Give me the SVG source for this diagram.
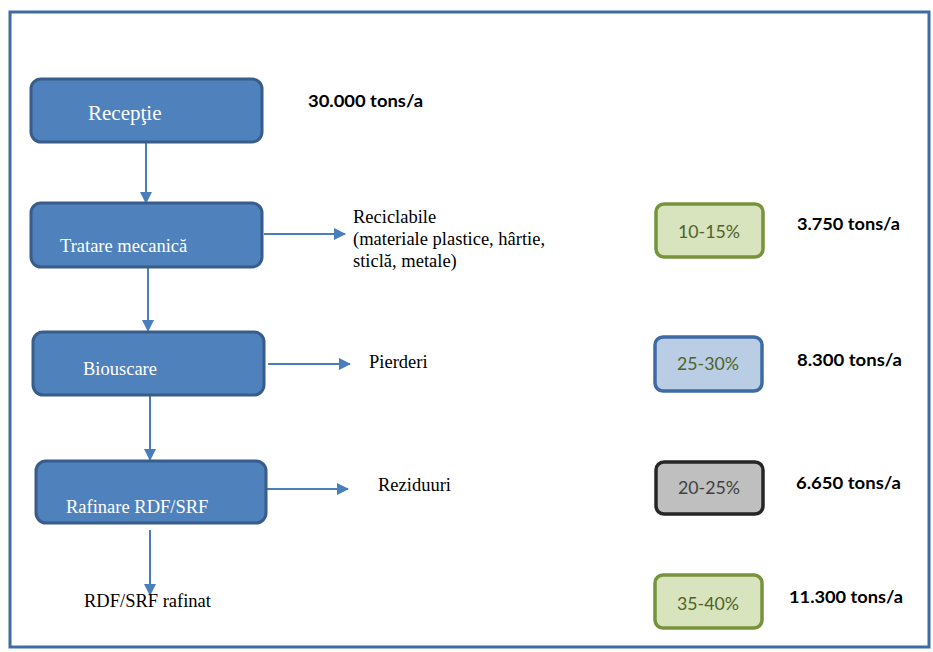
<svg xmlns="http://www.w3.org/2000/svg" width="933" height="652" viewBox="0 0 933 652">
<style>
.frame{fill:#fff;stroke:#3F6CA5;stroke-width:3}
.proc{fill:#4F81BD;stroke:#385D8A;stroke-width:3}
.ptxt{font-family:"Liberation Serif","Times New Roman",serif;font-size:18.5px;fill:#fff}
.lbl{font-family:"Liberation Serif","Times New Roman",serif;font-size:18.5px;fill:#000}
.pct{font-family:Lato,"Liberation Sans",sans-serif;font-size:17px;text-anchor:middle}
.tons{font-family:Lato,"Liberation Sans",sans-serif;font-size:17px;font-weight:bold;fill:#000}
.conn{stroke:#4A7EBB;stroke-width:2;fill:none}
</style>
<defs>
<marker id="ah" markerWidth="12" markerHeight="12" refX="11" refY="6" orient="auto" markerUnits="userSpaceOnUse">
<path d="M0,0 L12,6 L0,12 Z" fill="#4A7EBB"/>
</marker>
</defs>
<rect class="frame" x="10" y="12" width="919" height="635"/>

<g id="connectors">
<line class="conn" x1="146" y1="143" x2="146" y2="203" marker-end="url(#ah)"/>
<line class="conn" x1="148" y1="268" x2="148" y2="331" marker-end="url(#ah)"/>
<line class="conn" x1="150" y1="396" x2="150" y2="460" marker-end="url(#ah)"/>
<line class="conn" x1="150" y1="530" x2="150" y2="595" marker-end="url(#ah)"/>
<line class="conn" x1="264" y1="234" x2="345" y2="234" marker-end="url(#ah)"/>
<line class="conn" x1="268" y1="364" x2="350" y2="364" marker-end="url(#ah)"/>
<line class="conn" x1="267" y1="489" x2="348" y2="489" marker-end="url(#ah)"/>
</g>

<g id="receptie">
<rect class="proc" x="31" y="79" width="231" height="63" rx="10"/>
<text class="ptxt" x="88" y="120" style="font-size:21px">Recepţie</text>
</g>
<g id="tratare">
<rect class="proc" x="31" y="203" width="231" height="64" rx="10"/>
<text class="ptxt" x="60" y="252">Tratare mecanică</text>
</g>
<g id="biouscare">
<rect class="proc" x="33" y="332" width="231" height="63" rx="10"/>
<text class="ptxt" x="83" y="375">Biouscare</text>
</g>
<g id="rafinare">
<rect class="proc" x="36" y="461" width="230" height="62" rx="10"/>
<text class="ptxt" x="66" y="513">Rafinare RDF/SRF</text>
</g>

<g id="reciclabile">
<text class="lbl" x="353" y="223">Reciclabile</text>
<text class="lbl" x="353" y="245">(materiale plastice, hârtie,</text>
<text class="lbl" x="353" y="267">sticlă, metale)</text>
</g>
<g id="pierderi"><text class="lbl" x="369" y="368">Pierderi</text></g>
<g id="reziduuri"><text class="lbl" x="378" y="491">Reziduuri</text></g>
<g id="rafinat"><text class="lbl" x="84" y="607">RDF/SRF rafinat</text></g>

<g id="total"><text class="tons" x="308" y="107" textLength="115" lengthAdjust="spacingAndGlyphs">30.000 tons/a</text></g>

<g id="p1">
<rect x="656" y="204" width="107" height="53" rx="8" fill="#D7E4BD" stroke="#77933C" stroke-width="3.5"/>
<text class="pct" x="709" y="238" fill="#4F6228" textLength="62" lengthAdjust="spacingAndGlyphs">10-15%</text>
</g>
<g id="t1"><text class="tons" x="797" y="230" textLength="103" lengthAdjust="spacingAndGlyphs">3.750 tons/a</text></g>

<g id="p2">
<rect x="655" y="337" width="107" height="54" rx="8" fill="#B9CDE5" stroke="#3E6BA3" stroke-width="3.5"/>
<text class="pct" x="708" y="370" fill="#4F6228" textLength="62" lengthAdjust="spacingAndGlyphs">25-30%</text>
</g>
<g id="t2"><text class="tons" x="797" y="366" textLength="105" lengthAdjust="spacingAndGlyphs">8.300 tons/a</text></g>

<g id="p3">
<rect x="656" y="462" width="107" height="52" rx="8" fill="#BFBFBF" stroke="#262626" stroke-width="3.5"/>
<text class="pct" x="709" y="494" fill="#404040" textLength="62" lengthAdjust="spacingAndGlyphs">20-25%</text>
</g>
<g id="t3"><text class="tons" x="796" y="489" textLength="105" lengthAdjust="spacingAndGlyphs">6.650 tons/a</text></g>

<g id="p4">
<rect x="655" y="575" width="107" height="53" rx="8" fill="#D7E4BD" stroke="#77933C" stroke-width="3.5"/>
<text class="pct" x="708" y="610" fill="#4F6228" textLength="62" lengthAdjust="spacingAndGlyphs">35-40%</text>
</g>
<g id="t4"><text class="tons" x="789" y="603" textLength="114" lengthAdjust="spacingAndGlyphs">11.300 tons/a</text></g>
</svg>
